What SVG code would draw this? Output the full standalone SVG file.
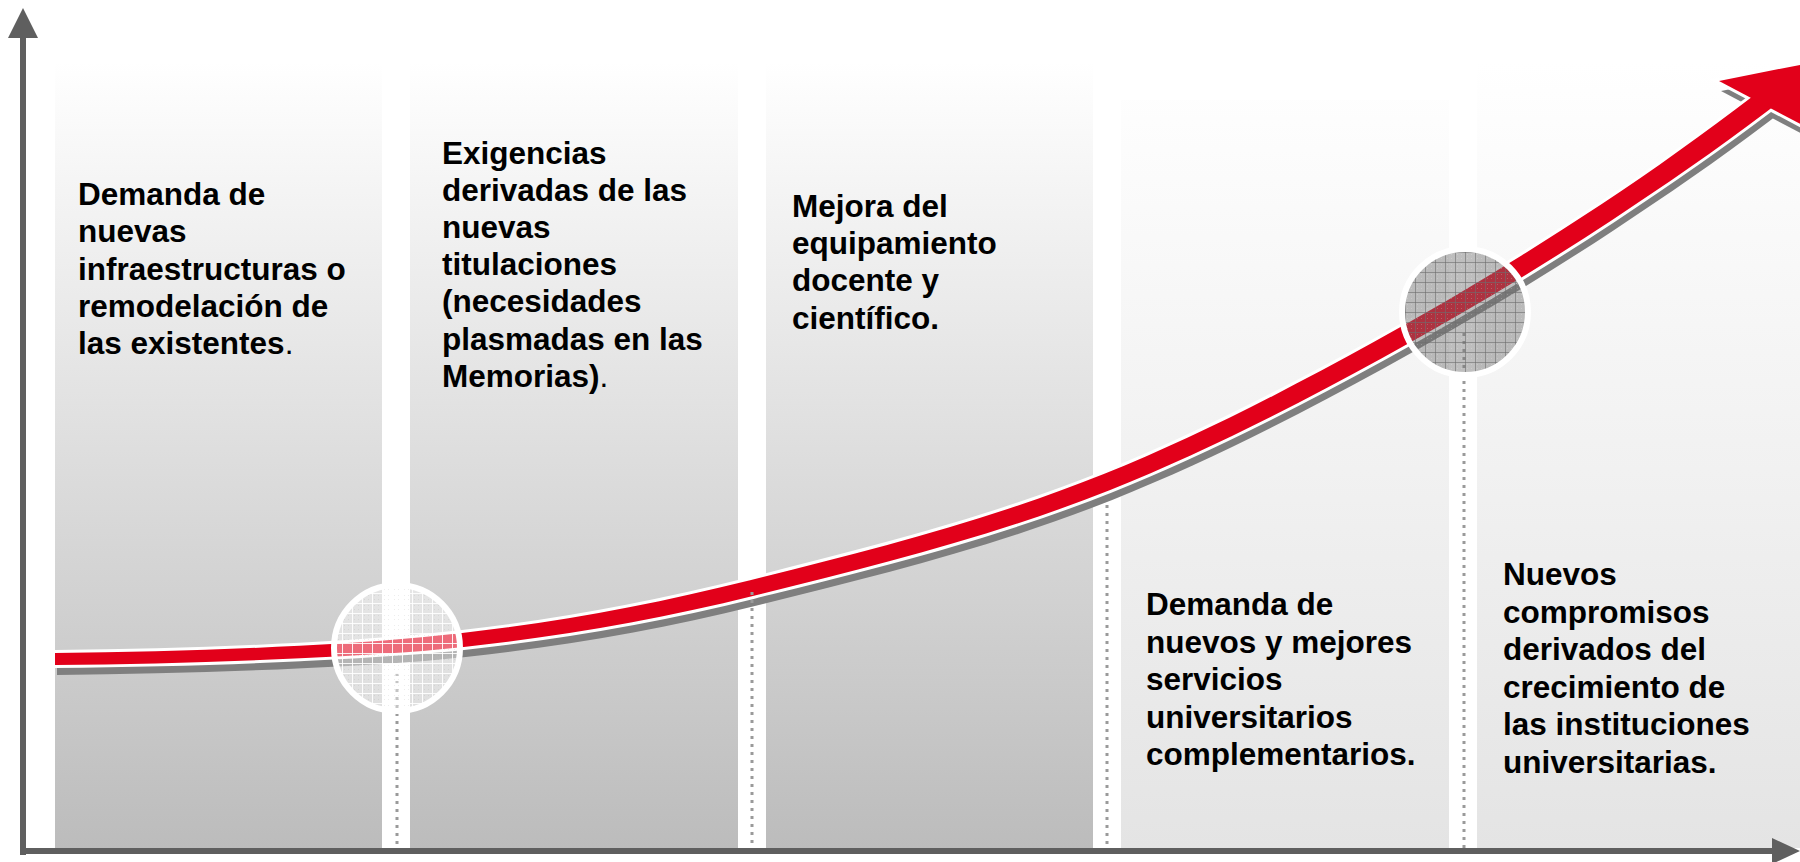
<svg xmlns="http://www.w3.org/2000/svg" xmlns:xlink="http://www.w3.org/1999/xlink" width="1800" height="862" viewBox="0 0 1800 862">
<style>
.t{font-family:"Liberation Sans",Arial,Helvetica,sans-serif;font-weight:bold;font-size:31.5px;fill:#000}
.n{font-weight:normal}
.dot{fill:none;stroke:#9a9a9a;stroke-width:3;stroke-dasharray:3 5}
.axis{fill:#5f5f5f}
</style>
<defs>
<linearGradient id="gA" x1="0" y1="62" x2="0" y2="848" gradientUnits="userSpaceOnUse">
<stop offset="0" stop-color="#ffffff"/><stop offset="1" stop-color="#bcbcbc"/>
</linearGradient>
<linearGradient id="gB" x1="0" y1="62" x2="0" y2="848" gradientUnits="userSpaceOnUse">
<stop offset="0" stop-color="#ffffff"/><stop offset="1" stop-color="#e4e4e4"/>
</linearGradient>
<pattern id="p1" x="2" y="3" width="10" height="10" patternUnits="userSpaceOnUse">
<rect width="10" height="10" fill="#ffffff" fill-opacity="0.42"/>
<rect x="2" y="2" width="1" height="1" fill="#888" fill-opacity="0.15"/>
<rect x="6" y="6" width="1" height="1" fill="#888" fill-opacity="0.15"/>
<rect x="2" y="6" width="1" height="1" fill="#888" fill-opacity="0.15"/>
<rect x="6" y="2" width="1" height="1" fill="#888" fill-opacity="0.15"/>
<path d="M0 0.5H10M0.5 0V10" stroke="#ffffff" stroke-opacity="0.9" stroke-width="1"/>
</pattern>
<pattern id="p2" x="5" y="2" width="10" height="10" patternUnits="userSpaceOnUse">
<rect width="10" height="10" fill="#6e6e6e" fill-opacity="0.45"/>
<rect x="2" y="2" width="1" height="1" fill="#fff" fill-opacity="0.2"/>
<rect x="6" y="6" width="1" height="1" fill="#fff" fill-opacity="0.2"/>
<rect x="2" y="6" width="1" height="1" fill="#fff" fill-opacity="0.2"/>
<rect x="6" y="2" width="1" height="1" fill="#fff" fill-opacity="0.2"/>
<path d="M0 0.5H10M0.5 0V10" stroke="#6e6e6e" stroke-opacity="0.6" stroke-width="1"/>
</pattern>
<path id="shaft" d="M55,653 C136.6,652.2 218.1,649.9 299.7,645.8 C353.9,643.1 408,639 462.2,633 C558.2,622.4 654.1,604.2 750.1,580.2 C868,550.7 985.9,521.3 1103.8,474.1 C1193.8,438.1 1283.7,391.6 1373.7,342.1 C1449.7,300.3 1525.8,254.3 1601.8,204.1 C1652.9,170.4 1703.7,133.6 1754.8,94.8 L1762.8,88.7 L1775.2,105.1 L1767.2,111.2 C1715.5,150.5 1663.9,185.8 1612.2,219.9 C1535.6,270.5 1458.9,315.8 1382.3,357.9 C1291.6,407.8 1200.9,453.6 1110.2,489.9 C991.4,537.4 872.7,566.1 753.9,595.8 C657.2,620 560.5,636.4 463.8,647 C409.3,653 354.8,655.5 300.3,658.2 C218.5,662.3 136.8,664.2 55,665 Z"/>
<path id="head" d="M1719,81 L1890,47 L1840,145 Z"/>
</defs>

<rect width="1800" height="862" fill="#ffffff"/>

<g id="col1">
<rect x="55" y="62" width="327" height="786" fill="url(#gA)"/>
<text class="t" x="78" y="205">Demanda de<tspan x="78" dy="37.3">nuevas</tspan><tspan x="78" dy="37.3">infraestructuras o</tspan><tspan x="78" dy="37.3">remodelación de</tspan><tspan x="78" dy="37.3">las existentes</tspan><tspan class="n">.</tspan></text>
</g>
<g id="col2">
<rect x="410" y="62" width="328" height="786" fill="url(#gA)"/>
<text class="t" x="442" y="163.5">Exigencias<tspan x="442" dy="37.2">derivadas de las</tspan><tspan x="442" dy="37.2">nuevas</tspan><tspan x="442" dy="37.2">titulaciones</tspan><tspan x="442" dy="37.2">(necesidades</tspan><tspan x="442" dy="37.2">plasmadas en las</tspan><tspan x="442" dy="37.2">Memorias)</tspan><tspan class="n">.</tspan></text>
</g>
<g id="col3">
<rect x="766" y="62" width="327" height="786" fill="url(#gA)"/>
<text class="t" x="792" y="217">Mejora del<tspan x="792" dy="37.2">equipamiento</tspan><tspan x="792" dy="37.2">docente y</tspan><tspan x="792" dy="37.2">científico.</tspan></text>
</g>
<g id="col4">
<rect x="1121" y="100" width="328" height="748" fill="url(#gB)"/>
<text class="t" x="1146" y="615">Demanda de<tspan x="1146" dy="37.5">nuevos y mejores</tspan><tspan x="1146" dy="37.5">servicios</tspan><tspan x="1146" dy="37.5">universitarios</tspan><tspan x="1146" dy="37.5">complementarios.</tspan></text>
</g>
<g id="col5">
<rect x="1477" y="62" width="323" height="786" fill="url(#gB)"/>
<text class="t" x="1503" y="585">Nuevos<tspan x="1503" dy="37.6">compromisos</tspan><tspan x="1503" dy="37.6">derivados del</tspan><tspan x="1503" dy="37.6">crecimiento de</tspan><tspan x="1503" dy="37.6">las instituciones</tspan><tspan x="1503" dy="37.6">universitarias.</tspan></text>
</g>

<g id="connectors">
<g id="trend-arrow">
<use xlink:href="#shaft" href="#shaft" transform="translate(2,10)" fill="#7f7f7f"/>
<use xlink:href="#head" href="#head" transform="translate(2,10)" fill="#7f7f7f"/>
<use xlink:href="#shaft" href="#shaft" fill="#e2001a" stroke="#ffffff" stroke-width="6" stroke-linejoin="miter"/>
<use xlink:href="#head" href="#head" fill="#e2001a" stroke="#ffffff" stroke-width="6" stroke-linejoin="miter"/>
<use xlink:href="#shaft" href="#shaft" fill="#e2001a"/>
<use xlink:href="#head" href="#head" fill="#e2001a"/>
</g>
<g id="dotted-lines">
<line class="dot" x1="397" y1="673" x2="397" y2="848"/>
<line class="dot" x1="752" y1="592" x2="752" y2="848"/>
<line class="dot" x1="1107" y1="505" x2="1107" y2="848"/>
<line class="dot" x1="1464" y1="333" x2="1464" y2="848"/>
</g>
</g>

<g id="circle1">
<circle cx="397" cy="648" r="63" fill="url(#p1)" stroke="#ffffff" stroke-width="6"/>
</g>
<g id="circle2">
<circle cx="1465" cy="312" r="63" fill="url(#p2)" stroke="#ffffff" stroke-width="6"/>
</g>

<g id="axes">
<rect class="axis" x="20" y="36" width="6" height="819"/>
<polygon class="axis" points="8,38 38,38 23,8"/>
<rect class="axis" x="20" y="848" width="1760" height="6"/>
<polygon class="axis" points="1772,838 1800,851 1772,864"/>
</g>
</svg>
